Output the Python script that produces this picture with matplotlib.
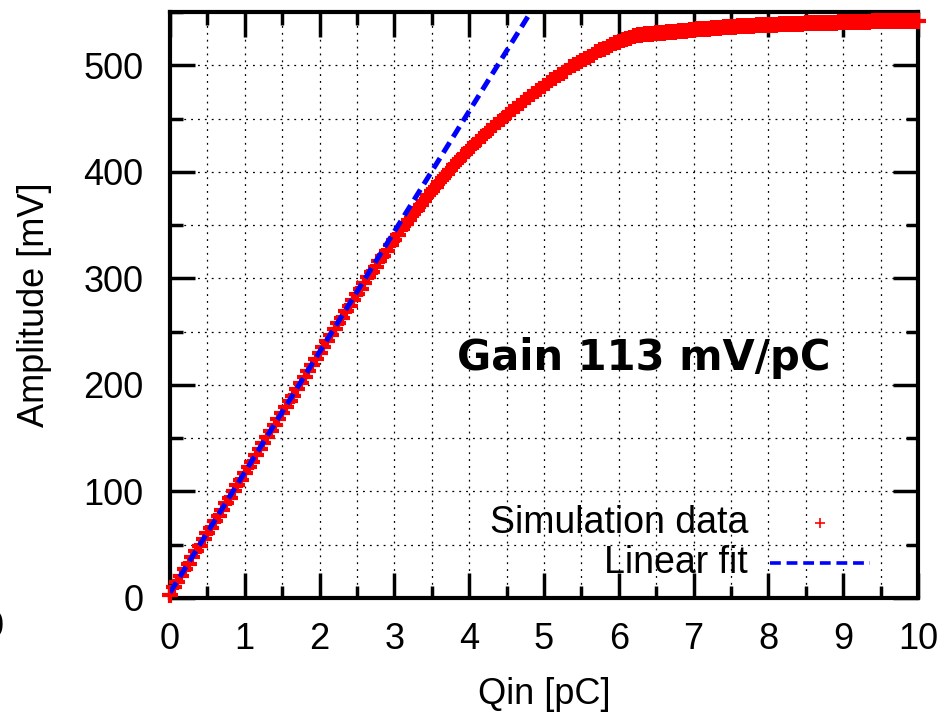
"""Amplifier transfer curve: simulated amplitude vs injected charge, with linear fit."""

import matplotlib
matplotlib.use("Agg")
import matplotlib.pyplot as plt
from matplotlib.ticker import MultipleLocator

# injected charge [pC], sampled every 0.05 pC
qin = [round(i * 0.05, 2) for i in range(201)]
# simulated amplitude [mV]
amp = [3, 10, 15, 21, 27, 32, 38, 44, 49, 55,
       61, 66, 72, 77, 83, 89, 94, 100, 106, 111,
       117, 123, 128, 134, 140, 145, 151, 157, 162, 168,
       174, 179, 185, 190, 196, 202, 207, 213, 219, 224,
       230, 236, 241, 247, 252, 258, 263, 269, 274, 280,
       285, 290, 296, 301, 306, 311, 316, 321, 326, 331,
       336, 341, 346, 351, 355, 360, 364, 369, 373, 378,
       382, 386, 390, 394, 398, 402, 406, 410, 414, 417,
       421, 424, 428, 431, 434, 438, 441, 444, 447, 450,
       453, 456, 459, 462, 465, 467, 470, 473, 476, 478,
       481, 483, 486, 488, 491, 493, 495, 498, 500, 502,
       504, 506, 508, 510, 512, 514, 515, 517, 519, 521,
       522, 524, 525, 526, 527, 528, 528.5, 529, 529.3, 529.6,
       530, 530.3, 530.6, 531, 531.3, 531.6, 532, 532.3, 532.6, 533,
       533.3, 533.6, 533.9, 534.2, 534.5, 534.8, 535, 535.3, 535.5, 535.8,
       536, 536.2, 536.4, 536.6, 536.8, 537, 537.2, 537.4, 537.5, 537.7,
       537.9, 538, 538.2, 538.3, 538.5, 538.6, 538.8, 538.9, 539, 539.2,
       539.3, 539.4, 539.5, 539.6, 539.7, 539.8, 539.9, 540, 540.1, 540.2,
       540.3, 540.4, 540.5, 540.6, 540.7, 540.8, 540.9, 541, 541.1, 541.2,
       541.3, 541.4, 541.5, 541.5, 541.6, 541.7, 541.8, 541.8, 541.9, 542,
       542]

# linear fit parameters (mV/pC, mV)
gain = 113
offset = 5
fit_q = [0.0, 5.0]

FS = 26
plt.rcParams["font.family"] = ["Liberation Sans", "DejaVu Sans"]

fig = plt.figure(figsize=(9.47, 7.14), dpi=100)
ax = fig.add_axes([0.1795, 0.1625, 0.7899, 0.8207])

ax.plot(qin, amp, "+", color="red", ms=11, mew=3.0, ls="none", clip_on=False, zorder=3)
ax.plot(fit_q, [gain * q + offset for q in fit_q], color="blue", lw=3.6,
        dashes=(2.4, 1.3), zorder=4)

ax.set_xlim(0, 10)
ax.set_ylim(0, 550)
ax.xaxis.set_major_locator(MultipleLocator(1))
ax.xaxis.set_minor_locator(MultipleLocator(0.5))
ax.yaxis.set_major_locator(MultipleLocator(100))
ax.yaxis.set_minor_locator(MultipleLocator(50))
ax.grid(True, which="both", color="black", lw=0.9, ls=(0, (1.5, 4)))
ax.set_axisbelow(True)
ax.tick_params(which="both", direction="in", top=True, right=True,
               labelsize=FS, width=2.5, colors="black")
ax.tick_params(which="major", length=18, pad=17)
ax.tick_params(axis="y", which="major", pad=19)
ax.tick_params(which="minor", length=9)
for s in ax.spines.values():
    s.set_linewidth(3)

ax.set_xlabel("Qin [pC]", fontsize=FS)
ax.set_ylabel("Amplitude [mV]", fontsize=FS)
ax.xaxis.set_label_coords(0.501, -0.135)
ax.yaxis.set_label_coords(-0.158, 0.5)

ax.text(0.384, 0.41, "Gain 113 mV/pC", transform=ax.transAxes, fontsize=30,
        fontweight="bold", family="DejaVu Sans", ha="left", va="center")

# gnuplot-style key, right-justified labels
ax.text(0.773, 0.128, "Simulation data", transform=ax.transAxes, fontsize=27,
        ha="right", va="center")
ax.plot([0.869], [0.128], "+", color="red", ms=7, mew=1.2, transform=ax.transAxes)
ax.text(0.773, 0.0597, "Linear fit", transform=ax.transAxes, fontsize=27,
        ha="right", va="center")
ax.plot([0.802, 0.936], [0.0597, 0.0597], color="blue", lw=2.6, dashes=(3, 1.6),
        transform=ax.transAxes)

# clipped tick label fragment at the left edge of the source image
fig.text(0.004, 0.121, "0", fontsize=FS, ha="right", va="center")

fig.savefig("out.png", dpi=100)
